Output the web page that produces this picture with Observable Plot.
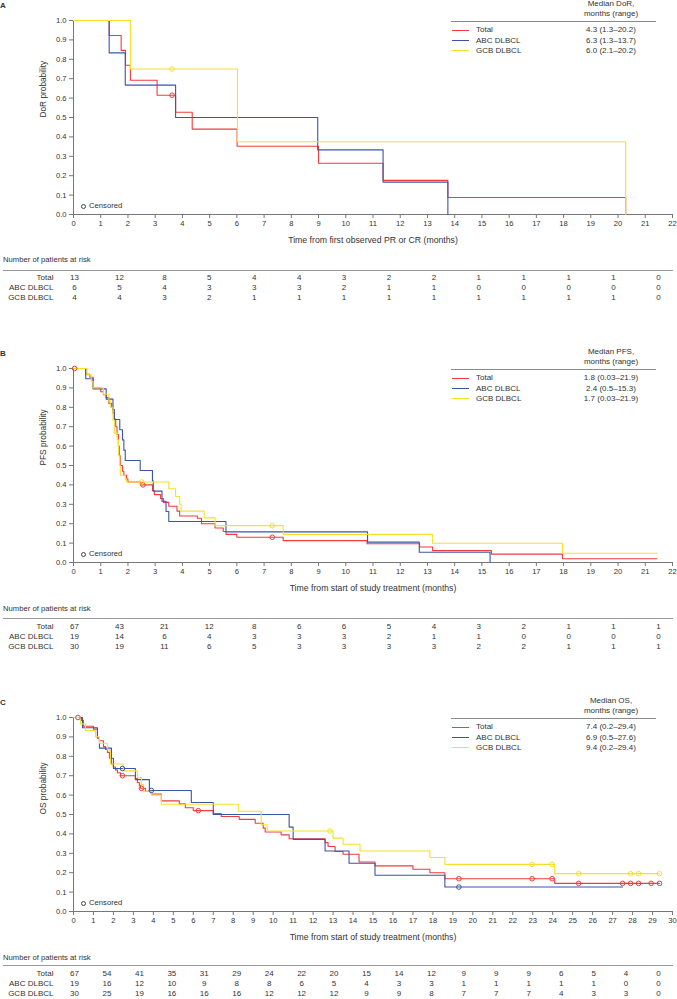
<!DOCTYPE html>
<html><head><meta charset="utf-8">
<script src="https://cdn.jsdelivr.net/npm/d3@7"></script>
<script src="https://cdn.jsdelivr.net/npm/@observablehq/plot@0.6"></script>
<style>
body{margin:0;background:#fff;}
#root{position:relative;width:677px;height:999px;overflow:hidden;font-family:"Liberation Sans",Arial,sans-serif;color:#333;background:#fff;}
.abs{position:absolute;white-space:nowrap;line-height:1;}
.plotbox{position:absolute;left:0;}
.plotbox svg{overflow:visible;}
</style></head><body><div id="root"></div>
<script>
// ---------- DATA ----------
const groups = ["Total", "ABC DLBCL", "GCB DLBCL"];
const colors = ["#ee3d3d", "#3b55a6", "#f7df2c"];

// Panel A: DoR  [months, probability]
const dorTotal = [[0,1],[1.31,0.923],[1.75,0.846],[1.91,0.769],[2.09,0.692],[3.07,0.615],[3.75,0.527],[4.36,0.440],[6.01,0.352],[9.0,0.264],[11.37,0.176],[13.75,0.088],[20.28,0]];
const dorABC = [[0,1],[1.31,0.833],[1.9,0.667],[3.75,0.5],[8.97,0.333],[11.37,0.167],[13.75,0]];
const dorGCB = [[0,1],[2.09,0.75],[6.02,0.375],[20.28,0]];
const dorTotalCens = [[3.62,0.615]];
const dorABCCens = [];
const dorGCBCens = [[3.62,0.75]];
const dorMedians = ["4.3 (1.3\u201320.2)", "6.3 (1.3\u201313.7)", "6.0 (2.1\u201320.2)"];
const dorRiskTotal = [13,12,8,5,4,4,3,2,2,1,1,1,1,0];
const dorRiskABC = [6,5,4,3,3,3,2,1,1,0,0,0,0,0];
const dorRiskGCB = [4,4,3,2,1,1,1,1,1,1,1,1,1,0];

// Panel B: PFS
const pfsTotal = [[0,1],[0.45,0.97],[0.6,0.955],[0.72,0.90],[1.0,0.88],[1.1,0.865],[1.2,0.85],[1.3,0.82],[1.4,0.80],[1.45,0.77],[1.5,0.74],[1.55,0.70],[1.6,0.66],[1.65,0.60],[1.68,0.55],[1.72,0.50],[1.8,0.47],[1.85,0.45],[1.95,0.43],[2.0,0.415],[2.46,0.40],[2.9,0.37],[2.97,0.35],[3.2,0.33],[3.3,0.31],[3.5,0.29],[3.8,0.265],[3.9,0.24],[4.55,0.228],[4.7,0.20],[5.2,0.178],[5.5,0.16],[5.6,0.145],[6.0,0.13],[7.7,0.113],[10.78,0.097],[12.71,0.08],[13.19,0.061],[15.35,0.043],[17.96,0.019],[21.43,0.019]];
const pfsABC = [[0,1],[0.45,0.947],[0.72,0.895],[1.2,0.842],[1.45,0.789],[1.5,0.737],[1.7,0.684],[1.8,0.632],[1.85,0.579],[1.9,0.526],[2.45,0.474],[2.9,0.421],[2.93,0.368],[3.25,0.316],[3.4,0.263],[3.5,0.211],[5.6,0.158],[10.8,0.105],[12.7,0.053],[15.3,0]];
const pfsGCB = [[0,1],[0.5,0.967],[0.65,0.933],[0.72,0.90],[1.1,0.867],[1.3,0.833],[1.35,0.80],[1.45,0.733],[1.5,0.667],[1.6,0.633],[1.65,0.55],[1.7,0.50],[1.72,0.45],[1.9,0.43],[1.95,0.415],[3.5,0.38],[3.75,0.34],[3.9,0.30],[3.95,0.265],[4.8,0.23],[5.2,0.19],[7.7,0.145],[13.19,0.099],[17.96,0.048],[21.43,0.048]];
const pfsTotalCens = [[0.04,1],[2.55,0.40],[7.3,0.13]];
const pfsABCCens = [];
const pfsGCBCens = [[2.5,0.415],[7.3,0.19]];
const pfsMedians = ["1.8 (0.03\u201321.9)", "2.4 (0.5\u201315.3)", "1.7 (0.03\u201321.9)"];
const pfsRiskTotal = [67,43,21,12,8,6,6,5,4,3,2,1,1,1];
const pfsRiskABC = [19,14,6,4,3,3,3,2,1,1,0,0,0,0];
const pfsRiskGCB = [30,19,11,6,5,3,3,3,3,2,2,1,1,1];

// Panel C: OS
const osTotal = [[0,1],[0.4,0.985],[0.5,0.955],[1.0,0.94],[1.2,0.895],[1.3,0.88],[1.5,0.85],[1.6,0.835],[1.7,0.82],[1.8,0.79],[1.9,0.76],[2.0,0.745],[2.1,0.73],[2.2,0.715],[2.35,0.70],[3.1,0.685],[3.2,0.665],[3.3,0.65],[3.35,0.635],[3.6,0.62],[3.9,0.605],[4.4,0.57],[5.3,0.555],[5.6,0.535],[6.0,0.52],[7.0,0.505],[7.4,0.49],[8.3,0.475],[9.1,0.455],[9.5,0.43],[9.6,0.41],[10.4,0.395],[10.8,0.375],[12.6,0.355],[12.75,0.335],[13.1,0.309],[13.5,0.295],[14.3,0.255],[15.1,0.235],[17.0,0.218],[17.85,0.2],[18.6,0.169],[24.1,0.145],[29.35,0.145]];
const osABC = [[0,1],[0.45,0.947],[1.2,0.895],[1.3,0.842],[1.9,0.79],[2.0,0.737],[3.1,0.68],[3.8,0.624],[5.9,0.562],[7.0,0.5],[10.8,0.435],[11.0,0.372],[12.6,0.312],[13.8,0.249],[15.1,0.187],[18.6,0.126],[27.5,0.126]];
const osGCB = [[0,1],[0.35,0.967],[0.6,0.933],[1.1,0.90],[1.3,0.867],[1.7,0.833],[1.85,0.76],[2.5,0.725],[3.2,0.69],[3.4,0.655],[3.5,0.62],[3.9,0.60],[4.4,0.553],[8.25,0.517],[9.4,0.447],[9.7,0.415],[13.0,0.378],[13.5,0.347],[14.35,0.312],[17.85,0.278],[18.6,0.243],[24.1,0.195],[29.35,0.195]];
const osTotalCens = [[0.22,1],[2.45,0.70],[3.4,0.635],[6.25,0.52],[19.3,0.169],[22.97,0.169],[23.97,0.169],[25.3,0.145],[27.5,0.145],[27.9,0.145],[28.3,0.145],[28.93,0.145],[29.35,0.145]];
const osABCCens = [[2.45,0.737],[3.9,0.624],[19.3,0.126]];
const osGCBCens = [[12.85,0.415],[22.97,0.243],[23.97,0.243],[25.3,0.195],[27.9,0.195],[28.3,0.195],[29.35,0.195]];
const osMedians = ["7.4 (0.2\u201329.4)", "6.9 (0.5\u201327.6)", "9.4 (0.2\u201329.4)"];
const osRiskTotal = [67,54,41,35,31,29,24,22,20,15,14,12,9,9,9,6,5,4,0];
const osRiskABC = [19,16,12,10,9,8,8,6,5,4,3,3,1,1,1,1,1,0,0];
const osRiskGCB = [30,25,19,16,16,16,12,12,12,9,9,8,7,7,7,4,3,3,0];

// ---------- LAYOUT ----------
const FONT = '"Liberation Sans", Arial, sans-serif';
const root = document.getElementById("root");

function txt(s, x, y, o = {}) {
  const el = document.createElement("div");
  el.className = "abs";
  el.textContent = s;
  el.style.left = x + "px";
  el.style.top = y + "px";
  el.style.fontSize = (o.size || 7.5) + "px";
  el.style.fontWeight = o.weight || "normal";
  el.style.color = o.color || "#333";
  const tx = o.anchor === "middle" ? "-50%" : o.anchor === "end" ? "-100%" : "0";
  el.style.transform = `translate(${tx},-50%)`;
  root.appendChild(el);
}
function hline(x1, x2, y, color, w) {
  const el = document.createElement("div");
  el.className = "abs";
  el.style.left = x1 + "px";
  el.style.width = (x2 - x1) + "px";
  el.style.top = Math.round(y - w / 2) + "px";
  el.style.height = w + "px";
  el.style.background = color;
  root.appendChild(el);
}
function place(node, top) {
  const box = document.createElement("div");
  box.className = "plotbox";
  box.style.top = top + "px";
  box.appendChild(node);
  root.appendChild(box);
}

const panels = [
  {letter: "A", top: 0, xMax: 22, yLabel: "DoR probability", xLabel: "Time from first observed PR or CR (months)",
   medianHead: "Median DoR,", medians: dorMedians, curves: [dorTotal, dorABC, dorGCB], cens: [dorTotalCens, dorABCCens, dorGCBCens],
   risk: [dorRiskTotal, dorRiskABC, dorRiskGCB], riskHead: 260, riskRule: 270, riskTop: 272},
  {letter: "B", top: 348, xMax: 22, yLabel: "PFS probability", xLabel: "Time from start of study treatment (months)",
   medianHead: "Median PFS,", medians: pfsMedians, curves: [pfsTotal, pfsABC, pfsGCB], cens: [pfsTotalCens, pfsABCCens, pfsGCBCens],
   risk: [pfsRiskTotal, pfsRiskABC, pfsRiskGCB], riskHead: 609, riskRule: 618, riskTop: 621},
  {letter: "C", top: 697, xMax: 30, yLabel: "OS probability", xLabel: "Time from start of study treatment (months)",
   medianHead: "Median OS,", medians: osMedians, curves: [osTotal, osABC, osGCB], cens: [osTotalCens, osABCCens, osGCBCens],
   risk: [osRiskTotal, osRiskABC, osRiskGCB], riskHead: 958, riskRule: 965, riskTop: 968}
];

const H = 250, MT = 20, MB = 36, ML = 73, MR = 5;

for (const p of panels) {
  const lineRows = [];
  p.curves.forEach((c, gi) => c.forEach(([t, s]) => lineRows.push({group: groups[gi], t, s})));
  const censRows = [];
  p.cens.forEach((c, gi) => c.forEach(([t, s]) => censRows.push({group: groups[gi], t, s})));

  const chart = Plot.plot({
    width: 677, height: H, marginLeft: ML, marginRight: MR, marginTop: MT, marginBottom: MB,
    style: {fontFamily: FONT, fontSize: "7.6px", color: "#333", background: "transparent", overflow: "visible"},
    x: {domain: [0, p.xMax]},
    y: {domain: [0, 1]},
    color: {domain: groups, range: colors},
    marks: [
      Plot.axisX({ticks: d3.range(0, p.xMax + 1), tickFormat: d => d, tickSize: 4, tickPadding: 2, stroke: "#777", fill: "#333", label: null}),
      Plot.axisY({ticks: d3.range(0, 11).map(i => i / 10), tickFormat: d3.format(".1f"), tickSize: 4, tickPadding: 3, stroke: "#777", fill: "#333", label: null}),
      Plot.ruleY([0], {stroke: "#777"}),
      Plot.ruleX([0], {stroke: "#777"}),
      Plot.line(lineRows, {x: "t", y: "s", z: "group", stroke: "group", curve: "step-after", strokeWidth: 1.1}),
      Plot.dot(censRows, {x: "t", y: "s", stroke: "group", r: 2.3, fill: "none", strokeWidth: 1}),
      Plot.text([p.xLabel], {frameAnchor: "bottom", dy: 28, text: d => d, fill: "#333", fontSize: 8.7}),
      Plot.text([p.yLabel], {frameAnchor: "left", dx: -30, rotate: -90, text: d => d, fill: "#333", fontSize: 8.3})
    ]
  });
  place(chart, p.top);

  const F = p.top + MT;           // frame top
  // panel letter
  txt(p.letter, 0, F - 14, {weight: "bold", size: 8});
  // legend
  txt(p.medianHead, 611, F - 16, {anchor: "middle", size: 8});
  txt("months (range)", 611, F - 6.5, {anchor: "middle", size: 8});
  hline(451, 656, F + 1.5, "#8a8a8a", 1);
  groups.forEach((g, i) => {
    const y = F + 10.3 + i * 10.2;
    hline(452, 469, y, colors[i], 1);
    txt(g, 476, y, {size: 8});
    txt(p.medians[i], 611, y, {anchor: "middle", size: 8});
  });
  // censored note
  const cy = F + 186;
  const circ = document.createElement("div");
  circ.className = "abs";
  Object.assign(circ.style, {left: "80.5px", top: (cy - 2.5) + "px", width: "3.5px", height: "3.5px", border: "1px solid #444", borderRadius: "50%"});
  root.appendChild(circ);
  txt("Censored", 89, cy, {size: 7.7});

  // risk table
  txt("Number of patients at risk", 3, p.riskHead, {size: 7.7});
  hline(3, 673, p.riskRule, "#9a9a9a", 1);
  const n = p.risk[0].length;
  const riskRows = [];
  p.risk.forEach((arr, gi) => arr.forEach((v, i) => riskRows.push({group: groups[gi], i, v})));
  const table = Plot.plot({
    width: 677, height: 40, marginLeft: 74, marginRight: 19, marginTop: 5, marginBottom: 15,
    style: {fontFamily: FONT, fontSize: "8px", color: "#333", background: "transparent", overflow: "visible"},
    x: {domain: [0, n - 1], axis: null},
    y: {type: "point", domain: groups, padding: 0},
    marks: [
      Plot.axisY({tickSize: 0, tickPadding: 21, label: null, fill: "#333"}),
      Plot.text(riskRows, {x: "i", y: "group", text: "v", fill: "#333"})
    ]
  });
  place(table, p.riskTop);
}
</script></body></html>
